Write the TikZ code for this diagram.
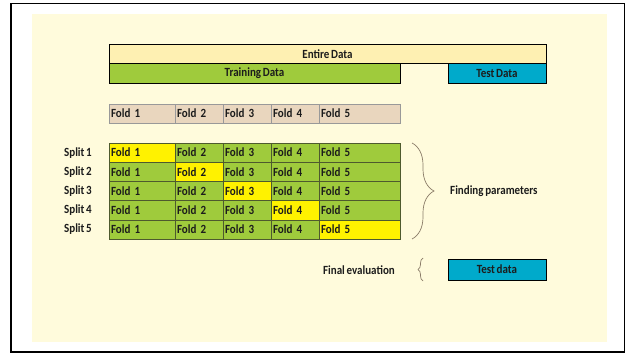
\documentclass[tikz,border=0pt]{standalone}
\usepackage{fontspec}
\setmainfont{Carlito}[FakeStretch=0.88, WordSpace=0.7]
\usepackage{tikz}
\usetikzlibrary{positioning,calc,decorations.pathreplacing}
\usepackage{xcolor}
\definecolor{panelbg}{HTML}{FFFBDC}
\definecolor{entirefill}{HTML}{FEF0B2}
\definecolor{traingreen}{HTML}{9FCB3C}
\definecolor{testcyan}{HTML}{00AACB}
\definecolor{foldtan}{HTML}{E9D6BE}
\definecolor{gridline}{HTML}{4E5A2E}
\definecolor{bracecol}{HTML}{8A7C68}
\definecolor{inkcol}{HTML}{1C1C1C}

\begin{document}
\begin{tikzpicture}[
    x=1pt, y=-1pt,
    font=\fontsize{12.5}{13}\selectfont\bfseries,
    text=inkcol,
    bar/.style={draw=black, line width=0.8pt, rectangle, minimum height=19.5pt, inner sep=0pt, outer sep=0pt},
    foldcell/.style={draw=gridline, line width=0.6pt, rectangle, minimum height=19.2pt, inner xsep=2pt, inner ysep=0pt, outer sep=0pt, align=left},
    splitlabel/.style={inner sep=0pt},
    curly/.style={decorate, draw=bracecol, line width=0.7pt},
]

% frame and panel
\fill[white] (0,0) rectangle (627,353);
\useasboundingbox (0,0) rectangle (627,353);
\fill[panelbg] (32,14) rectangle (607,342);
\draw[line width=1.5pt] (10.75,3.75) rectangle (624.25,351.75);

% data bars
\node[bar, fill=entirefill, minimum width=437pt, anchor=north west] (entire) at (109,44) {Entire Data};
\node[bar, fill=traingreen, minimum width=291pt, anchor=north west] (train) at (entire.south west) {Training Data};
\node[bar, fill=testcyan, minimum width=98pt, anchor=north east] (test) at (entire.south east) {Test Data};

% fold header
\foreach \j/\w/\x in {1/66/109, 2/48/175, 3/48/223, 4/48/271, 5/81/319} {
    \node[foldcell, draw=black!40, fill=foldtan, text width=\w pt-4pt, anchor=north west] (h\j) at (\x,104) {Fold \j};
}

% splits
\foreach \i in {1,...,5} {
    \foreach \j/\w/\x in {1/66/109, 2/48/175, 3/48/223, 4/48/271, 5/81/319} {
        \ifnum\i=\j
            \def\cellfill{yellow}
        \else
            \def\cellfill{traingreen}
        \fi
        \node[foldcell, fill=\cellfill, text width=\w pt-4pt, anchor=north west] (r\i c\j) at (\x,{143+(\i-1)*19.2}) {Fold \j};
    }
    \node[splitlabel, left=17pt of r\i c1] (s\i) {Split \i};
}

% parameter search
\coordinate (btop) at ($(r1c5.north east)+(12,0)$);
\coordinate (bbot) at ($(r5c5.south east)+(12,0)$);
\draw[curly, decoration={brace, amplitude=22pt}] (btop) -- (bbot);
\node[anchor=west, inner sep=0pt] (finding) at ($(r3c5.east)+(50,0)$) {Finding parameters};

% final evaluation
\node[bar, fill=testcyan, minimum width=98pt, minimum height=21pt, anchor=north west] (testfinal) at (448,259) {Test data};
\node[anchor=east, inner sep=0pt] (final) at (395,270) {Final evaluation};
\coordinate (fbot) at (423,281);
\coordinate (ftop) at (423,258);
\draw[curly, decoration={brace, amplitude=5pt}] (fbot) -- (ftop);

\end{tikzpicture}
\end{document}
